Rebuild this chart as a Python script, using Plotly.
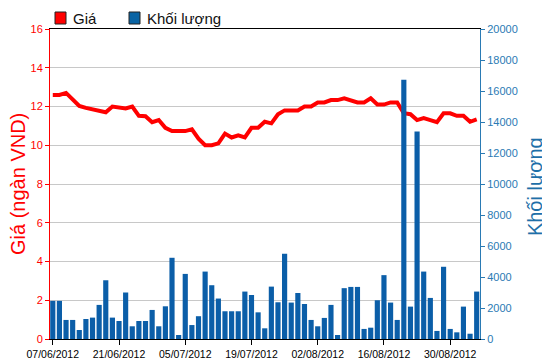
import plotly.graph_objects as go

dates = [
    "07/06/2012", "08/06/2012", "11/06/2012", "12/06/2012", "13/06/2012", "14/06/2012", "15/06/2012",
    "18/06/2012", "19/06/2012", "20/06/2012", "21/06/2012", "22/06/2012",
    "25/06/2012", "26/06/2012", "27/06/2012", "28/06/2012", "29/06/2012",
    "02/07/2012", "03/07/2012", "04/07/2012", "05/07/2012", "06/07/2012",
    "09/07/2012", "10/07/2012", "11/07/2012", "12/07/2012", "13/07/2012",
    "16/07/2012", "17/07/2012", "18/07/2012", "19/07/2012", "20/07/2012",
    "23/07/2012", "24/07/2012", "25/07/2012", "26/07/2012", "27/07/2012",
    "30/07/2012", "31/07/2012", "01/08/2012", "02/08/2012", "03/08/2012",
    "06/08/2012", "07/08/2012", "08/08/2012", "09/08/2012", "10/08/2012",
    "13/08/2012", "14/08/2012", "15/08/2012", "16/08/2012", "17/08/2012",
    "20/08/2012", "21/08/2012", "22/08/2012", "23/08/2012", "24/08/2012",
    "27/08/2012", "28/08/2012", "29/08/2012", "30/08/2012", "31/08/2012",
    "04/09/2012", "05/09/2012", "06/09/2012",
]

price = [
    12.6, 12.6, 12.7, 12.36, 12.03, 11.93, 11.85, 11.74, 11.7, 12.0,
    11.93, 11.9, 12.0, 11.52, 11.5, 11.19, 11.3, 10.9, 10.73, 10.73,
    10.73, 10.82, 10.34, 10.0, 10.0, 10.1, 10.6, 10.4, 10.51, 10.4,
    10.9, 10.9, 11.21, 11.13, 11.6, 11.8, 11.8, 11.8, 12.0, 12.0,
    12.21, 12.21, 12.33, 12.33, 12.42, 12.31, 12.21, 12.21, 12.42, 12.1,
    12.1, 12.21, 12.21, 11.65, 11.6, 11.3, 11.4, 11.3, 11.19, 11.65,
    11.65, 11.52, 11.52, 11.21, 11.33,
]

volume = [
    2460, 2460, 1230, 1230, 580, 1290, 1380, 2200, 3790, 1380,
    1160, 3000, 820, 1160, 1160, 1875, 820, 2110, 5240, 260,
    4200, 900, 1470, 4350, 3470, 2610, 1790, 1790, 1790, 3060,
    2840, 1720, 690, 3380, 2370, 5500, 2350, 2970, 2260, 1230,
    820, 1360, 2200, 260, 3280, 3360, 3360, 650, 730, 2500,
    4120, 2350, 1230, 16730, 2090, 13380, 4350, 2650, 520, 4660,
    650, 430, 2090, 340, 3060,
]

tick_dates = dates[::10]

series_names = ["Giá", "Khối lượng"]
left_title = "Giá (ngàn VND)"
right_title = "Khối lượng"

RED = "#ff0000"
BLUE_BAR = "#0b5ea8"
BLUE_AX = "#2a7ab4"
BLUE_TITLE = "#1e6fa8"
FONT = "Liberation Sans, Arial, sans-serif"

fig = go.Figure()

fig.add_trace(go.Scatter(
    x=dates, y=price, mode="lines", name=series_names[0],
    line=dict(color=RED, width=4), showlegend=False, yaxis="y",
))
fig.add_trace(go.Bar(
    x=dates, y=volume, name=series_names[1], yaxis="y2",
    marker=dict(color=BLUE_BAR, line=dict(width=0)),
    width=0.78, showlegend=False,
))

# legend (drawn as small squares + labels above the plot)
legend_shapes = [
    dict(type="rect", xref="paper", yref="paper", xsizemode="pixel", ysizemode="pixel",
         xanchor=0, yanchor=1, x0=5, x1=16, y0=5, y1=17,
         fillcolor=RED, line=dict(color="#222222", width=1)),
    dict(type="rect", xref="paper", yref="paper", xsizemode="pixel", ysizemode="pixel",
         xanchor=0, yanchor=1, x0=79, x1=90, y0=5, y1=17,
         fillcolor="#0a64a4", line=dict(color="#222222", width=1)),
]
annotations = [
    dict(text=series_names[0], xref="paper", yref="paper", x=0, y=1, xshift=21, yshift=11,
         xanchor="left", yanchor="middle", showarrow=False, font=dict(size=15, color="#111111")),
    dict(text=series_names[1], xref="paper", yref="paper", x=0, y=1, xshift=95, yshift=11,
         xanchor="left", yanchor="middle", showarrow=False, font=dict(size=15, color="#111111")),
    dict(text=left_title, xref="paper", yref="paper", x=0, y=0.5, xshift=-32,
         xanchor="center", yanchor="middle", textangle=-90, showarrow=False,
         font=dict(size=20, color=RED)),
    dict(text=right_title, xref="paper", yref="paper", x=1, y=0.49, xshift=55,
         xanchor="center", yanchor="middle", textangle=-90, showarrow=False,
         font=dict(size=20, color=BLUE_TITLE)),
]

fig.update_layout(
    width=542, height=356,
    margin=dict(l=42, r=70, t=21, b=25, autoexpand=False),
    paper_bgcolor="white", plot_bgcolor="white",
    font=dict(family=FONT, size=11, color="black"),
    showlegend=False,
    shapes=legend_shapes,
    annotations=annotations,
    xaxis=dict(
        type="category", range=[-0.42, 64.5],
        tickmode="array", tickvals=tick_dates, ticktext=tick_dates,
        showline=True, linecolor="black", linewidth=1, mirror=True,
        ticks="outside", ticklen=5, tickcolor="black",
        tickfont=dict(size=10.5, color="black"),
        showgrid=False, zeroline=False, automargin=False,
    ),
    yaxis=dict(
        range=[0, 16], dtick=2, tick0=0,
        showline=True, linecolor=RED, linewidth=1,
        ticks="outside", ticklen=4, tickcolor=RED,
        tickfont=dict(size=11, color=RED),
        showgrid=True, gridcolor="#c8c8c8", gridwidth=1, zeroline=False,
        automargin=False,
    ),
    yaxis2=dict(
        range=[0, 20000], dtick=2000, tick0=0, tickformat="d",
        overlaying="y", side="right",
        showline=True, linecolor=BLUE_AX, linewidth=1,
        ticks="outside", ticklen=4, tickcolor=BLUE_AX,
        tickfont=dict(size=11, color=BLUE_AX),
        showgrid=False, zeroline=False, automargin=False,
    ),
)

fig.write_html("out.html")
